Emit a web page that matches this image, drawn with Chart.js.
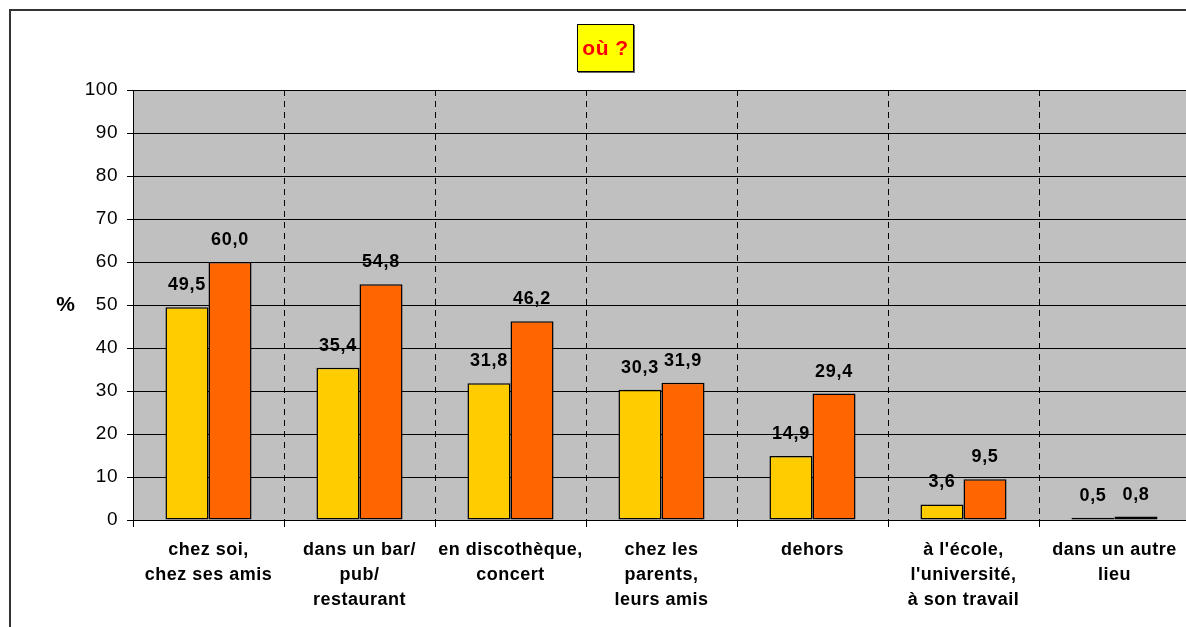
<!DOCTYPE html>
<html>
<head>
<meta charset="utf-8">
<script src="https://cdn.jsdelivr.net/npm/chart.js"></script>
<style>
  html, body { margin: 0; padding: 0; background: #fff; overflow: hidden; }
  #wrap { position: absolute; left: 0; top: 0; width: 1215px; height: 640px; }
</style>
</head>
<body>
<div id="wrap"><canvas id="myChart" width="1215" height="640"></canvas></div>
<script>
// categories (multi-line labels) and the two series
var lieux = [
    ['chez soi,', 'chez ses amis'],
    ['dans un bar/', 'pub/', 'restaurant'],
    ['en discothèque,', 'concert'],
    ['chez les', 'parents,', 'leurs amis'],
    ['dehors'],
    ["à l'école,", "l'université,", 'à son travail'],
    ['dans un autre', 'lieu']
];
var serie1 = [49.5, 35.4, 31.8, 30.3, 14.9, 3.6, 0.5];
var serie2 = [60.0, 54.8, 46.2, 31.9, 29.4, 9.5, 0.8];
var yTicks = [0, 10, 20, 30, 40, 50, 60, 70, 80, 90, 100];

var FONT = "'Liberation Sans', Arial, sans-serif";

// white page, outer frame, grey plot area
var backdrop = {
    id: 'backdrop',
    beforeDraw: function (chart) {
        var ctx = chart.ctx, a = chart.chartArea;
        ctx.save();
        ctx.fillStyle = '#fff';
        ctx.fillRect(0, 0, chart.width, chart.height);
        ctx.strokeStyle = '#333';
        ctx.lineWidth = 2;
        ctx.strokeRect(10, 10, chart.width, chart.height);
        ctx.fillStyle = '#C0C0C0';
        ctx.fillRect(a.left, a.top, a.right - a.left, a.bottom - a.top);
        ctx.restore();
        ctx.letterSpacing = '0.5px';
    }
};

// title box, "%" axis label and value labels above the bars
var annotations = {
    id: 'annotations',
    afterDatasetsDraw: function (chart) {
        var ctx = chart.ctx;
        ctx.save();
        ctx.letterSpacing = '0.7px';
        ctx.textAlign = 'center';
        ctx.textBaseline = 'middle';
        ctx.fillStyle = '#000';
        ctx.font = 'bold 18px ' + FONT;
        chart.data.datasets.forEach(function (ds, i) {
            chart.getDatasetMeta(i).data.forEach(function (bar, j) {
                ctx.fillText(ds.data[j].toFixed(1).replace('.', ','), bar.x, bar.y - 22);
            });
        });

        ctx.font = 'bold 21px ' + FONT;
        ctx.fillText('%', 66, 305);

        // title
        ctx.letterSpacing = '0.5px';
        ctx.fillStyle = '#666';
        ctx.fillRect(578, 25, 57, 48);
        ctx.fillStyle = '#FFFF00';
        ctx.fillRect(577, 24, 57, 48);
        ctx.strokeStyle = '#000';
        ctx.lineWidth = 1;
        ctx.strokeRect(577.5, 24.5, 56, 47);
        ctx.fillStyle = '#FF0000';
        ctx.font = 'bold 21px ' + FONT;
        ctx.fillText('où ?', 605.5, 49);
        ctx.restore();
    }
};

var ctx = document.getElementById('myChart').getContext('2d');
var myChart = new Chart(ctx, {
    type: 'bar',
    data: {
        labels: lieux,
        datasets: [{
            data: serie1,
            backgroundColor: '#FFCC00',
            borderColor: '#000',
            borderWidth: 1.5,
            borderSkipped: false
        }, {
            data: serie2,
            backgroundColor: '#FF6600',
            borderColor: '#000',
            borderWidth: 1.5,
            borderSkipped: false
        }]
    },
    options: {
        responsive: false,
        animation: false,
        layout: { padding: { left: 0, top: 90, right: 25, bottom: 0 } },
        datasets: {
            bar: { barPercentage: 1, categoryPercentage: 0.57 }
        },
        plugins: {
            legend: { display: false },
            tooltip: { enabled: false }
        },
        scales: {
            x: {
                offset: true,
                grid: {
                    offset: true,
                    color: '#000',
                    lineWidth: 1,
                    tickLength: 7,
                    tickColor: '#000'
                },
                border: { color: '#000', width: 1, dash: [6, 5] },
                ticks: {
                    color: '#000',
                    padding: 10,
                    maxRotation: 0,
                    autoSkip: false,
                    font: { family: FONT, size: 18, weight: 'bold', lineHeight: 1.4 }
                },
                afterFit: function (s) { s.height = 120; }
            },
            y: {
                min: 0,
                max: 100,
                afterBuildTicks: function (s) {
                    s.ticks = yTicks.map(function (v) { return { value: v }; });
                },
                grid: { color: '#000', lineWidth: 1, tickLength: 6 },
                border: { color: '#000', width: 1 },
                ticks: {
                    color: '#000',
                    padding: 9,
                    font: { family: FONT, size: 19 }
                },
                afterFit: function (s) { s.width = 133; }
            }
        }
    },
    plugins: [backdrop, annotations]
});
</script>
</body>
</html>
